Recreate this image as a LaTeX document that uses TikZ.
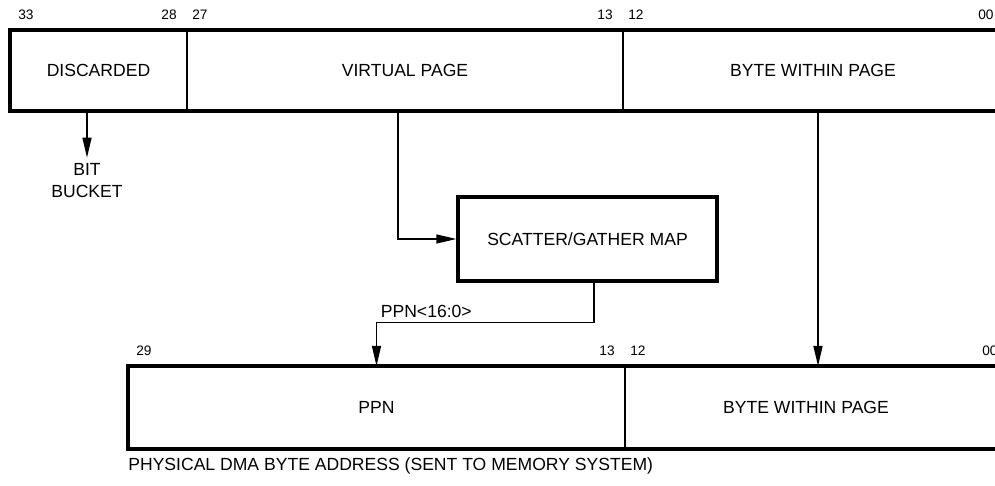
\documentclass[tikz,border=0pt]{standalone}
\usepackage{fontspec}
\setmainfont{Liberation Sans}
\usetikzlibrary{positioning}
\usetikzlibrary{calc}
\usetikzlibrary{arrows.meta}

\begin{document}
\begin{tikzpicture}[
    font=\fontsize{10}{12.5}\selectfont,
    field/.style = {rectangle, inner sep=0pt, outer sep=0pt,
                minimum height=#1},
    field/.default = 1.62cm,
    frame/.style = {line width=1.9pt},
    thinline/.style = {line width=0.8pt},
    arrow/.style = {thinline, -{Triangle[length=4mm,width=1.8mm]}},
    bitno/.style = {font=\fontsize{7.8}{9}\selectfont, inner sep=0pt},
    mapbox/.style = {draw, frame, minimum width=5.18cm,
                minimum height=1.68cm}
                    ]
        \useasboundingbox (0,0) rectangle (19.9,9.7);
        \clip (0,0) rectangle (19.9,9.7);
        % virtual address fields
        \node[field, minimum width=3.54cm, anchor=north west] (disc) at (0.2,9.1) {DISCARDED};
        \node[field, minimum width=8.72cm, right=0pt of disc] (vpage) {VIRTUAL PAGE};
        \node[field, minimum width=7.6cm, right=0pt of vpage] (bwp) {BYTE WITHIN PAGE};
        \draw[frame] (disc.north west) rectangle (bwp.south east);
        \draw[thinline] (disc.north east) -- (disc.south east);
        \draw[thinline] (vpage.north east) -- (vpage.south east);
        \foreach \n/\x/\a in {33/0.36/west, 28/3.54/east, 27/3.84/west, 13/12.26/east, 12/12.56/west, 00/19.56/west}
            \node[bitno, anchor=base \a] (va\n) at (\x,9.3) {\n};
        % physical address fields
        \node[field=1.66cm, minimum width=9.94cm, anchor=north west] (ppn) at (2.56,2.38) {PPN};
        \node[field=1.66cm, minimum width=7.24cm, right=0pt of ppn] (physbwp) {BYTE WITHIN PAGE};
        \draw[frame] (ppn.north west) rectangle ($(physbwp.south east)+(0.6,0)$);
        \draw[thinline] (ppn.north east) -- (ppn.south east);
        \foreach \n/\x/\a in {29/2.72/west, 13/12.3/east, 12/12.6/west, 00/19.64/west}
            \node[bitno, anchor=base \a] (pa\n) at (\x,2.58) {\n};
        \node[anchor=west, inner sep=0pt] (caption) at (2.56,0.38) {PHYSICAL DMA BYTE ADDRESS (SENT TO MEMORY SYSTEM)};
        % map and bit bucket
        \node[mapbox] (sgmap) at (11.75,4.92) {SCATTER/GATHER MAP};
        \node[align=center] (bucket) at (1.74,6.08) {BIT\\BUCKET};
        \coordinate (bend) at ([xshift=0.13cm, yshift=-0.8cm]sgmap.south);
        \node[anchor=base west, inner sep=0pt] (ppnbits) at ([xshift=0.08cm, yshift=0.1cm]ppn.north |- bend) {PPN<16:0>};
        % connectors
        \draw[arrow] (disc.south -| bucket.north) -- (bucket.north);
        \draw[arrow] ([xshift=-0.14cm]vpage.south) |- (sgmap.west);
        \draw[arrow] ([xshift=0.13cm]sgmap.south) -- (bend) -| (ppn.north);
        \draw[arrow] ([xshift=0.1cm]bwp.south) -- ([xshift=0.1cm]bwp.south |- physbwp.north);
    \end{tikzpicture}
\end{document}
